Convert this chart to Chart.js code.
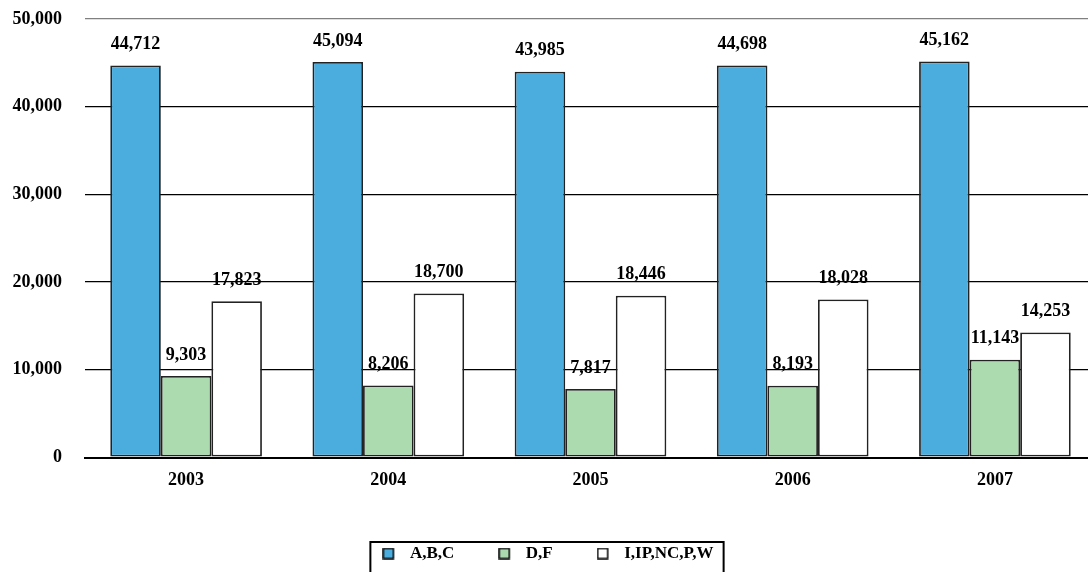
<!DOCTYPE html>
<html>
<head>
<meta charset="utf-8">
<script src="https://cdn.jsdelivr.net/npm/chart.js@4.4.0/dist/chart.umd.min.js"></script>
<style>
html,body{margin:0;padding:0;background:#fff;overflow:hidden;}
#wrap{position:absolute;left:0;top:0;width:1100px;height:600px;}
</style>
</head>
<body>
<div id="wrap"><canvas id="c" width="1100" height="600"></canvas></div>
<script>
const categories = ['2003', '2004', '2005', '2006', '2007'];
const seriesNames = ['A,B,C', 'D,F', 'I,IP,NC,P,W'];
const abc = [44712, 45094, 43985, 44698, 45162];
const df = [9303, 8206, 7817, 8193, 11143];
const others = [17823, 18700, 18446, 18028, 14253];
const yTicks = [0, 10000, 20000, 30000, 40000, 50000];
const colors = ['#4BADDE', '#ACDBB0', '#FFFFFF'];

const FONT = '"Liberation Serif", "Times New Roman", serif';
const fmt = v => v.toLocaleString('en-US');

function swatch(color) {
  const c = document.createElement('canvas');
  c.width = 19; c.height = 12;
  const g = c.getContext('2d');
  g.fillStyle = color;
  g.fillRect(1, 1, 10, 10);
  g.strokeStyle = '#000';
  g.lineWidth = 1.5;
  g.strokeRect(1, 1, 10, 10);
  return c;
}

const dataLabels = {
  id: 'dataLabels',
  afterDatasetsDraw(chart) {
    const ctx = chart.ctx;
    ctx.save();
    ctx.font = 'bold 18px ' + FONT;
    ctx.fillStyle = '#000';
    ctx.textAlign = 'center';
    ctx.textBaseline = 'middle';
    chart.data.datasets.forEach((ds, i) => {
      chart.getDatasetMeta(i).data.forEach((bar, j) => {
        ctx.fillText(fmt(ds.data[j]), bar.x, bar.y - 21);
      });
    });
    ctx.restore();
  }
};

const legendBox = {
  id: 'legendBox',
  afterDraw(chart) {
    const boxes = chart.legend.legendHitBoxes;
    if (!boxes || !boxes.length) return;
    let l = Infinity, r = -Infinity, t = Infinity, b = -Infinity;
    boxes.forEach(h => { l = Math.min(l, h.left); r = Math.max(r, h.left + h.width); t = Math.min(t, h.top); b = Math.max(b, h.top + h.height); });
    const ctx = chart.ctx;
    ctx.save();
    ctx.strokeStyle = '#000';
    ctx.lineWidth = 2;
    ctx.strokeRect(l - 12, t - 3, (r - l) + 22, (b - t) + 40);
    ctx.restore();
  }
};

new Chart(document.getElementById('c'), {
  type: 'bar',
  data: {
    labels: categories,
    datasets: [
      { label: seriesNames[0], data: abc, backgroundColor: colors[0], borderColor: '#222', borderWidth: 1.8, borderSkipped: false },
      { label: seriesNames[1], data: df, backgroundColor: colors[1], borderColor: '#222', borderWidth: 1.8, borderSkipped: false },
      { label: seriesNames[2], data: others, backgroundColor: colors[2], borderColor: '#222', borderWidth: 1.8, borderSkipped: false }
    ]
  },
  options: {
    responsive: false,
    animation: false,
    devicePixelRatio: 1,
    layout: { padding: { top: 19, right: 4, left: 0, bottom: 28 } },
    datasets: { bar: { barPercentage: 1.0, categoryPercentage: 0.75 } },
    scales: {
      x: {
        grid: { display: false },
        border: { display: true, color: '#000', width: 2 },
        ticks: { color: '#000', font: { family: FONT, size: 18, weight: 'bold' }, padding: 4 },
        afterFit(scale) { scale.height = 43.5; }
      },
      y: {
        min: 0, max: 50000,
        afterBuildTicks(scale) { scale.ticks = yTicks.map(v => ({ value: v })); },
        border: { display: false },
        grid: {
          color: c => (c.tick && c.tick.value === 50000) ? '#808080' : '#000',
          lineWidth: c => (c.tick && c.tick.value === 0) ? 2 : 1.2,
          drawTicks: true, tickLength: 23, tickColor: 'rgba(0,0,0,0)'
        },
        ticks: { color: '#000', font: { family: FONT, size: 18, weight: 'bold' }, padding: 0, callback: v => fmt(v) },
        afterFit(scale) { scale.width = 85; }
      }
    },
    plugins: {
      legend: {
        position: 'bottom',
        labels: {
          color: '#000',
          font: { family: FONT, size: 17, weight: 'bold' },
          usePointStyle: true, pointStyleWidth: 19, boxHeight: 12, padding: 44,
          generateLabels(chart) {
            return chart.data.datasets.map((ds, i) => ({
              text: ds.label, pointStyle: swatch(ds.backgroundColor), fillStyle: ds.backgroundColor,
              strokeStyle: '#000', lineWidth: 0, datasetIndex: i, hidden: false, fontColor: '#000'
            }));
          }
        }
      },
      tooltip: { enabled: false }
    }
  },
  plugins: [dataLabels, legendBox]
});
</script>
</body>
</html>
